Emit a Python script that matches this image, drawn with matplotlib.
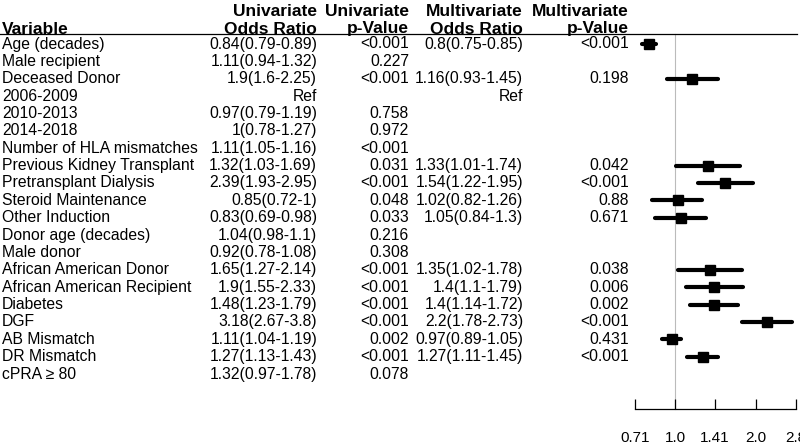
import matplotlib
matplotlib.use("Agg")
import matplotlib.pyplot as plt
import numpy as np
from matplotlib.transforms import blended_transform_factory

plt.rcParams['font.family'] = ['Liberation Sans', 'DejaVu Sans']

variables = ["Age (decades)", "Male recipient", "Deceased Donor", "2006-2009", "2010-2013",
             "2014-2018", "Number of HLA mismatches", "Previous Kidney Transplant",
             "Pretransplant Dialysis", "Steroid Maintenance", "Other Induction",
             "Donor age (decades)", "Male donor", "African American Donor",
             "African American Recipient", "Diabetes", "DGF", "AB Mismatch", "DR Mismatch",
             "cPRA \u2265 80"]

uni_or = [0.84, 1.11, 1.9, None, 0.97, 1, 1.11, 1.32, 2.39, 0.85, 0.83, 1.04, 0.92, 1.65, 1.9, 1.48, 3.18, 1.11, 1.27, 1.32]
uni_lo = [0.79, 0.94, 1.6, None, 0.79, 0.78, 1.05, 1.03, 1.93, 0.72, 0.69, 0.98, 0.78, 1.27, 1.55, 1.23, 2.67, 1.04, 1.13, 0.97]
uni_hi = [0.89, 1.32, 2.25, None, 1.19, 1.27, 1.16, 1.69, 2.95, 1, 0.98, 1.1, 1.08, 2.14, 2.33, 1.79, 3.8, 1.19, 1.43, 1.78]
uni_p = ["<0.001", "0.227", "<0.001", "", "0.758", "0.972", "<0.001", "0.031", "<0.001", "0.048",
         "0.033", "0.216", "0.308", "<0.001", "<0.001", "<0.001", "<0.001", "0.002", "<0.001", "0.078"]

multi_or = [0.8, None, 1.16, None, None, None, None, 1.33, 1.54, 1.02, 1.05, None, None, 1.35, 1.4, 1.4, 2.2, 0.97, 1.27, None]
multi_lo = [0.75, None, 0.93, None, None, None, None, 1.01, 1.22, 0.82, 0.84, None, None, 1.02, 1.1, 1.14, 1.78, 0.89, 1.11, None]
multi_hi = [0.85, None, 1.45, None, None, None, None, 1.74, 1.95, 1.26, 1.3, None, None, 1.78, 1.79, 1.72, 2.73, 1.05, 1.45, None]
multi_p = ["<0.001", "", "0.198", "", "", "", "", "0.042", "<0.001", "0.88", "0.671", "", "",
           "0.038", "0.006", "0.002", "<0.001", "0.431", "<0.001", ""]
ref_rows = [3]

xticks = [0.71, 1.0, 1.41, 2.0, 2.83]
xticklabels = ["0.71", "1.0", "1.41", "2.0", "2.8"]

W, H = 800, 444
fig = plt.figure(figsize=(W / 100, H / 100), dpi=100)

# forest axes spanning full height; x region 635..796 px
x0, x1 = 635, 796
ax = fig.add_axes([x0 / W, 0, (x1 - x0) / W, 1])
ax.set_xscale('log')
ax.set_xlim(2 ** -0.5, 2 ** 1.5)
row0, dy = 44, 17.37
ax.set_ylim((H - row0) / dy, -row0 / dy)
ax.patch.set_alpha(0)
for s in ['top', 'right', 'left']:
    ax.spines[s].set_visible(False)
axis_y = (409 - row0) / dy
ax.spines['bottom'].set_position(('data', axis_y))
ax.spines['bottom'].set_linewidth(0.9)
ax.set_yticks([])
ax.set_xticks(xticks)
ax.set_xticklabels(xticklabels, fontsize=11)
ax.xaxis.set_minor_locator(matplotlib.ticker.NullLocator())
ax.tick_params(axis='x', direction='in', length=7.5, width=0.9, pad=16)

header_y = (34 - row0) / dy
# reference line at 1
ax.plot([1, 1], [header_y, axis_y], color='#bbbbbb', lw=0.8, zorder=1, clip_on=False)

for i, (m, lo, hi) in enumerate(zip(multi_or, multi_lo, multi_hi)):
    if m is None:
        continue
    ax.plot([lo, hi], [i, i], color='black', lw=3.0, solid_capstyle='round', zorder=2, clip_on=False)
    ax.plot([m], [i], marker='s', color='black', markersize=7.8, zorder=3, clip_on=False)

tr = blended_transform_factory(fig.transFigure, ax.transData)
fs = 11.3
hfs = 12.5

def fmt(v):
    return f"{v:g}"

for i, name in enumerate(variables):
    ax.text(2 / W, i, name, transform=tr, ha='left', va='center', fontsize=fs, clip_on=False)
    if i in ref_rows:
        ax.text(317 / W, i, "Ref", transform=tr, ha='right', va='center', fontsize=fs)
        ax.text(523 / W, i, "Ref", transform=tr, ha='right', va='center', fontsize=fs)
        continue
    if uni_or[i] is not None:
        ax.text(317 / W, i, f"{fmt(uni_or[i])}({fmt(uni_lo[i])}-{fmt(uni_hi[i])})", transform=tr,
                ha='right', va='center', fontsize=fs)
    ax.text(409 / W, i, uni_p[i], transform=tr, ha='right', va='center', fontsize=fs)
    if multi_or[i] is not None:
        ax.text(523 / W, i, f"{fmt(multi_or[i])}({fmt(multi_lo[i])}-{fmt(multi_hi[i])})", transform=tr,
                ha='right', va='center', fontsize=fs)
    ax.text(629 / W, i, multi_p[i], transform=tr, ha='right', va='center', fontsize=fs)

# headers
h1 = (12 - row0) / dy
h2 = (29 - row0) / dy
ax.text(2 / W, h2, "Variable", transform=tr, ha='left', va='center', fontsize=hfs, fontweight='bold')
for xr, (a, b) in [(317, ("Univariate", "Odds Ratio")), (409, ("Univariate", "p-Value")),
                   (523, ("Multivariate", "Odds Ratio")), (629, ("Multivariate", "p-Value"))]:
    ax.text(xr / W, h1, a, transform=tr, ha='right', va='center', fontsize=hfs, fontweight='bold')
    ax.text(xr / W, h2, b, transform=tr, ha='right', va='center', fontsize=hfs, fontweight='bold')

ax.plot([0, 797 / W], [header_y, header_y], transform=tr, color='black', lw=0.9, clip_on=False)

fig.savefig("out.png", dpi=100)
